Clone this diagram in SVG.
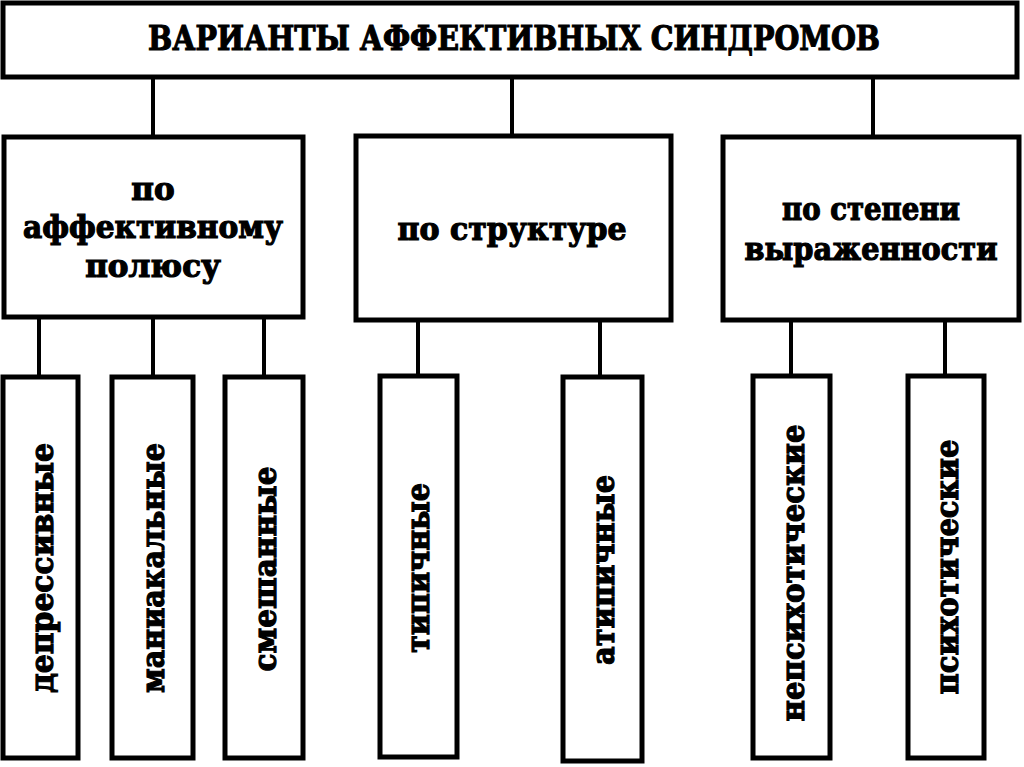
<svg xmlns="http://www.w3.org/2000/svg" width="1024" height="767" viewBox="0 0 1024 767">
<style>
.box{fill:#fff;stroke:#000;stroke-width:5}
.ln{stroke:#000;stroke-width:4;fill:none}
.t{font-family:"DejaVu Serif","Liberation Serif",serif;font-weight:bold;fill:#000;stroke:#000;stroke-width:1.2;text-anchor:middle;dominant-baseline:central}
.h{font-size:33px}
.m{font-size:31px}
.v{font-size:32px}
</style>
<rect width="1024" height="767" fill="#fff"/>
<g id="connectors">
<path class="ln" d="M153 77V137M512 77V135M873 77V137"/>
<path class="ln" d="M39 317V377M153 317V377M264 317V377"/>
<path class="ln" d="M418 320V376M600 320V377"/>
<path class="ln" d="M791 320V376M945 320V376"/>
</g>
<g id="root">
<rect class="box" x="3" y="3" width="1014" height="74"/>
<text class="t h" x="514" y="38" textLength="732" lengthAdjust="spacingAndGlyphs">ВАРИАНТЫ АФФЕКТИВНЫХ СИНДРОМОВ</text>
</g>
<g id="pole">
<rect class="box" x="4" y="137" width="299" height="180"/>
<text class="t m" x="153" y="189">по</text>
<text class="t m" x="153" y="227" textLength="260" lengthAdjust="spacingAndGlyphs">аффективному</text>
<text class="t m" x="153" y="266">полюсу</text>
</g>
<g id="structure">
<rect class="box" x="356" y="136" width="315" height="184"/>
<text class="t m" x="512" y="229" textLength="229" lengthAdjust="spacingAndGlyphs">по структуре</text>
</g>
<g id="degree">
<rect class="box" x="723" y="137" width="296" height="183"/>
<text class="t m" x="871" y="209" textLength="178" lengthAdjust="spacingAndGlyphs">по степени</text>
<text class="t m" x="871" y="249" textLength="253" lengthAdjust="spacingAndGlyphs">выраженности</text>
</g>
<g id="depr">
<rect class="box" x="3" y="377" width="75" height="381"/>
<text class="t v" transform="translate(42 568) rotate(-90)" textLength="250" lengthAdjust="spacingAndGlyphs">депрессивные</text>
</g>
<g id="mani">
<rect class="box" x="112" y="377" width="81" height="381"/>
<text class="t v" transform="translate(153 568) rotate(-90)" textLength="250" lengthAdjust="spacingAndGlyphs">маниакальные</text>
</g>
<g id="mixed">
<rect class="box" x="225" y="377" width="78" height="381"/>
<text class="t v" transform="translate(265 569) rotate(-90)" textLength="205" lengthAdjust="spacingAndGlyphs">смешанные</text>
</g>
<g id="typ">
<rect class="box" x="380" y="376" width="77" height="381"/>
<text class="t v" transform="translate(418 568) rotate(-90)" textLength="170" lengthAdjust="spacingAndGlyphs">типичные</text>
</g>
<g id="atyp">
<rect class="box" x="563" y="377" width="79" height="384"/>
<text class="t v" transform="translate(603 570) rotate(-90)" textLength="190" lengthAdjust="spacingAndGlyphs">атипичные</text>
</g>
<g id="nonpsy">
<rect class="box" x="753" y="376" width="77" height="382"/>
<text class="t v" transform="translate(793 573) rotate(-90)" textLength="297" lengthAdjust="spacingAndGlyphs">непсихотические</text>
</g>
<g id="psy">
<rect class="box" x="908" y="376" width="76" height="382"/>
<text class="t v" transform="translate(947 567) rotate(-90)" textLength="255" lengthAdjust="spacingAndGlyphs">психотические</text>
</g>
</svg>
